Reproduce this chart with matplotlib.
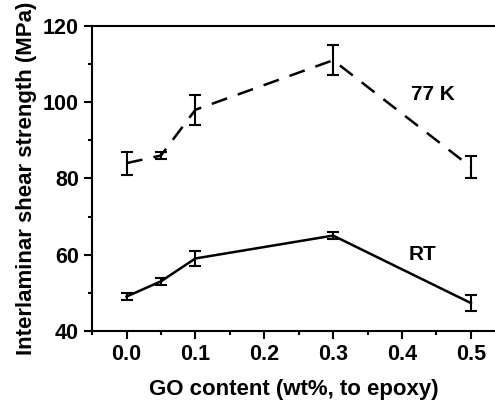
import matplotlib
matplotlib.use("Agg")
import matplotlib.pyplot as plt
from matplotlib.ticker import MultipleLocator

plt.rcParams["font.family"] = ["Liberation Sans", "DejaVu Sans"]
plt.rcParams["font.weight"] = "bold"

go_content = [0.0, 0.05, 0.1, 0.3, 0.5]
rt_strength = [49, 53, 59, 65, 47.3]
rt_err = [1, 1, 2, 1, 2]
cryo_strength = [84, 86, 98, 111, 83]
cryo_err = [3, 1, 4, 4, 3]

fig = plt.figure(figsize=(4.95, 4.05), dpi=100)
ax = fig.add_axes([0.186, 0.183, 0.814, 0.753])

ax.errorbar(go_content, cryo_strength, yerr=cryo_err, color="black", lw=1.8,
            ls=(0, (6.5, 4.5)), capsize=4, elinewidth=1.5, capthick=1.5)
ax.errorbar(go_content, rt_strength, yerr=rt_err, color="black", lw=1.8,
            capsize=4, elinewidth=1.5, capthick=1.5)

ax.text(0.445, 102, "77 K", fontsize=15, fontweight="bold", ha="center", va="center")
ax.text(0.43, 60, "RT", fontsize=15, fontweight="bold", ha="center", va="center")

ax.set_xlim(-0.05, 0.535)
ax.set_ylim(40, 120)
ax.xaxis.set_major_locator(MultipleLocator(0.1))
ax.xaxis.set_minor_locator(MultipleLocator(0.05))
ax.yaxis.set_major_locator(MultipleLocator(20))
ax.yaxis.set_minor_locator(MultipleLocator(10))
ax.xaxis.set_major_formatter(plt.FormatStrFormatter("%.1f"))

ax.spines["right"].set_visible(False)
for s in ["left", "bottom", "top"]:
    ax.spines[s].set_linewidth(1.5)
ax.tick_params(which="both", direction="out", width=1.5, labelsize=15.5)
ax.tick_params(which="major", length=6)
ax.tick_params(which="minor", length=3)
ax.tick_params(top=False, which="both")

ax.set_xlabel("GO content (wt%, to epoxy)", fontsize=16, fontweight="bold", labelpad=10)
ax.set_ylabel("Interlaminar shear strength (MPa)", fontsize=16, fontweight="bold", labelpad=4)

fig.savefig("out.png", dpi=100)
